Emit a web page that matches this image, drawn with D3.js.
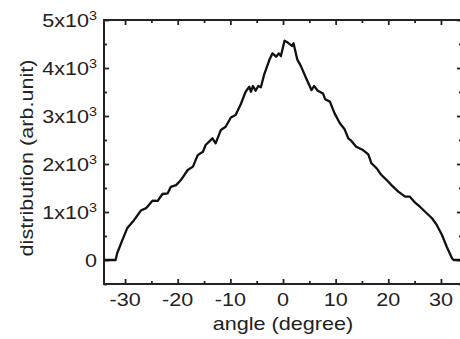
<!DOCTYPE html>
<html>
<head>
<meta charset="utf-8">
<script src="https://cdn.jsdelivr.net/npm/d3@7"></script>
<style>
  body { margin: 0; background: #fff; }
  svg text { font-family: "Liberation Sans", Arial, sans-serif; fill: #222; }
</style>
</head>
<body>
<div id="chart"></div>
<script>
// angle in degree, distribution in arb. unit
const angles = [-34, -31.8, -31.5, -30.5, -29.6, -28.3, -27.0, -26.0, -24.8, -23.8, -22.9, -21.9, -21.3, -20.3,
  -19.4, -18.1, -17.1, -16.2, -15.2, -14.7, -13.4, -12.8, -11.8, -10.9, -9.9, -9.0, -8.0, -7.1, -6.4, -6.1,
  -5.7, -5.2, -4.7, -4.2, -3.6, -2.6, -2.0, -1.3, -0.8, -0.4, 0.3, 0.9, 1.7, 2.0, 2.7, 3.4, 4.4, 5.4, 5.9,
  6.6, 7.6, 8.0, 8.9, 9.8, 10.8, 11.7, 12.4, 13.0, 13.9, 15.2, 16.2, 16.8, 17.8, 18.7, 19.7, 20.6, 21.9,
  23.2, 24.1, 25.1, 26.0, 27.0, 28.3, 29.2, 30.2, 31.1, 32.1, 32.4, 34];
const distribution = [0, 0, 140, 420, 660, 830, 1030, 1080, 1235, 1230, 1375, 1390, 1525, 1560,
  1665, 1875, 1945, 2185, 2255, 2395, 2535, 2430, 2710, 2775, 2970, 3020, 3250, 3505, 3610, 3505,
  3625, 3525, 3625, 3600, 3855, 4165, 4305, 4235, 4305, 4250, 4570, 4530, 4460, 4515, 4180, 4040, 3785, 3540, 3625,
  3525, 3470, 3350, 3300, 3055, 2850, 2725, 2535, 2480, 2360, 2290, 2200, 2015, 1910, 1770, 1665, 1560, 1425,
  1320, 1320, 1195, 1110, 1005, 870, 730, 520, 275, 35, 0, 0];

const xTicks = [-30, -20, -10, 0, 10, 20, 30];
const xMinor = [-25, -15, -5, 5, 15, 25];
const yTicks = [0, 1000, 2000, 3000, 4000, 5000];
const yMinor = [-500, 500, 1500, 2500, 3500, 4500];
const xTitle = 'angle (degree)';
const yTitle = 'distribution (arb.unit)';

const width = 460, height = 339;
const margin = { top: 20, right: -2, bottom: 55, left: 104 };
const stretch = 1.2; // text in the picture is a bit wider than normal

const svg = d3.select('#chart')
  .append('svg')
  .attr('width', width)
  .attr('height', height);

const x = d3.scaleLinear([-34, 34], [margin.left, width - margin.right]);
const y = d3.scaleLinear([-500, 5000], [height - margin.bottom, margin.top]);

const x0 = x.range()[0], x1 = x.range()[1];
const y0 = y.range()[0], y1 = y.range()[1];

// ticks pointing inward on all four sides
const tickAxis = (axis, scale, vals, len) => axis(scale).tickValues(vals).tickSize(len).tickSizeOuter(0).tickFormat('');

const axes = [
  [d3.axisTop, x, `translate(0,${y0})`],
  [d3.axisBottom, x, `translate(0,${y1})`],
  [d3.axisRight, y, `translate(${x0},0)`],
  [d3.axisLeft, y, `translate(${x1},0)`]
];
axes.forEach(([axis, scale, tr]) => {
  const isX = scale === x;
  svg.append('g').attr('transform', tr).call(tickAxis(axis, scale, isX ? xTicks : yTicks, 5));
  svg.append('g').attr('transform', tr).call(tickAxis(axis, scale, isX ? xMinor : yMinor, 3));
});
svg.selectAll('.domain').remove();
svg.selectAll('.tick line').attr('stroke', '#222').attr('stroke-width', 1.8);

// frame
svg.append('rect')
  .attr('x', x0).attr('y', y1)
  .attr('width', x1 - x0).attr('height', y0 - y1)
  .attr('fill', 'none')
  .attr('stroke', '#222')
  .attr('stroke-width', 2);

// curve
const line = d3.line()
  .x((d, i) => x(angles[i]))
  .y(d => y(d));

svg.append('path')
  .datum(distribution)
  .attr('d', line)
  .attr('fill', 'none')
  .attr('stroke', '#111')
  .attr('stroke-width', 2.3)
  .attr('stroke-linejoin', 'round');

// x tick labels
svg.selectAll('.xlab')
  .data(xTicks)
  .enter()
  .append('text')
  .attr('class', 'xlab')
  .attr('transform', d => `translate(${x(d)},${y0 + 22}) scale(${stretch},1)`)
  .attr('text-anchor', 'middle')
  .style('font-size', '18px')
  .text(d => d);

// y tick labels with superscript
const ylab = svg.selectAll('.ylab')
  .data(yTicks)
  .enter()
  .append('text')
  .attr('class', 'ylab')
  .attr('transform', d => `translate(97,${y(d) + 7}) scale(${stretch},1)`)
  .attr('text-anchor', 'end')
  .style('font-size', '18px');

ylab.append('tspan').text(d => d === 0 ? '0' : `${d / 1000}x10`);
ylab.filter(d => d !== 0)
  .append('tspan')
  .attr('dy', -7)
  .style('font-size', '12px')
  .text('3');

// titles
svg.append('text')
  .attr('transform', `translate(${x(0)},330) scale(${stretch},1)`)
  .attr('text-anchor', 'middle')
  .style('font-size', '18px')
  .text(xTitle);

svg.append('text')
  .attr('transform', `translate(33,158) rotate(-90) scale(${stretch},1)`)
  .attr('text-anchor', 'middle')
  .style('font-size', '18px')
  .text(yTitle);
</script>
</body>
</html>
